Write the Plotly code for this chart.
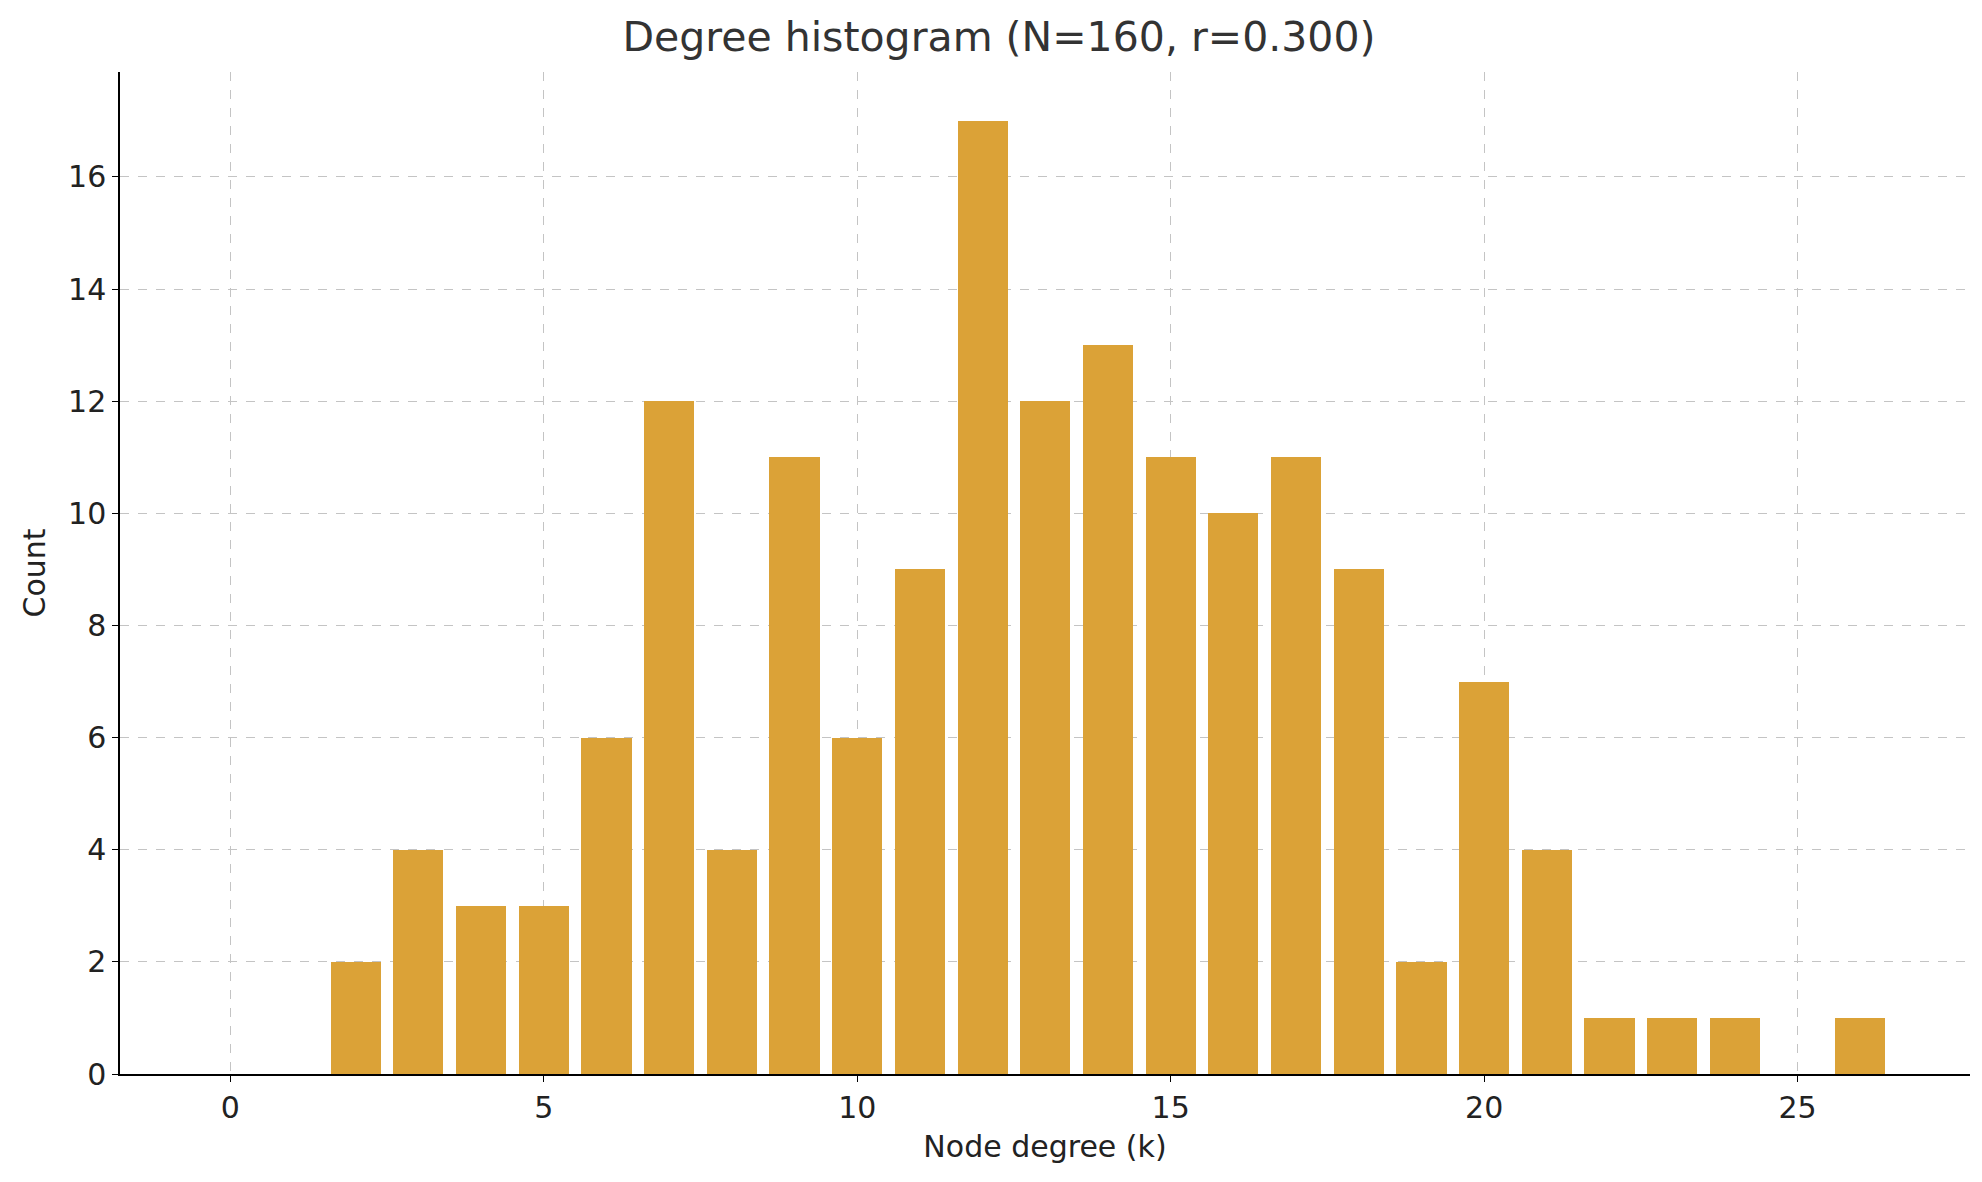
import plotly.graph_objects as go

degrees = list(range(0, 27))
counts = [0, 0, 2, 4, 3, 3, 6, 12, 4, 11, 6, 9, 17, 12, 13, 11, 10, 11, 9, 2, 7, 4, 1, 1, 1, 0, 1]

fig = go.Figure(go.Bar(x=degrees, y=counts, width=0.8, marker_color="#DBA237", marker_line_width=0))

axis_common = dict(showline=True, linecolor="black", linewidth=1.5, ticks="outside", ticklen=6,
                   tickcolor="black", showgrid=True, gridcolor="#c4c4c4", griddash="dash",
                   gridwidth=1, zeroline=False, tickfont=dict(size=30, color="#222"))

fig.update_layout(
    width=1982, height=1182,
    template="simple_white",
    font=dict(family="DejaVu Sans", color="#222"),
    title=dict(text="Degree histogram (N=160, r=0.300)", x=0.5, xanchor="center", y=0.988,
               font=dict(size=41, color="#333")),
    margin=dict(l=112, r=20, t=64, b=116),
    bargap=0,
    xaxis=dict(range=[-1.76, 27.75], tickvals=[0, 5, 10, 15, 20, 25],
               title=dict(text="Node degree (k)", font=dict(size=30), standoff=12), **axis_common),
    yaxis=dict(range=[0, 17.87], tickvals=list(range(0, 17, 2)),
               title=dict(text="Count", font=dict(size=30), standoff=14), **axis_common),
    plot_bgcolor="white", paper_bgcolor="white",
)

fig.write_html("out.html")
